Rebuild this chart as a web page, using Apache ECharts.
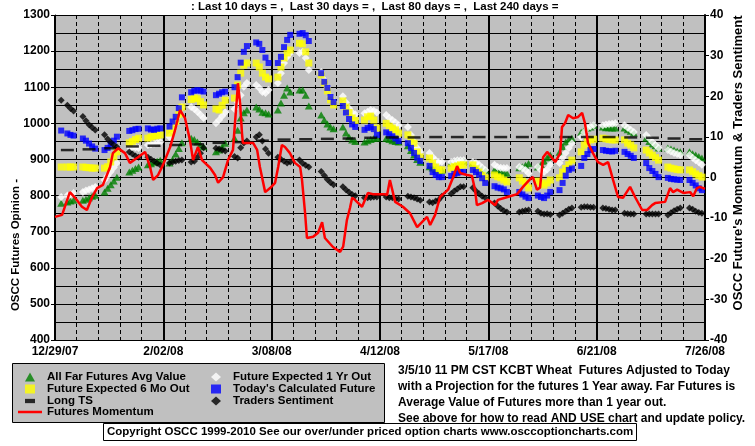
<!DOCTYPE html>
<html>
<head>
<meta charset="utf-8">
<script src="https://cdn.jsdelivr.net/npm/echarts@6/dist/echarts.min.js"></script>
<style>
html,body{margin:0;padding:0;background:#fff;}
#chart{width:755px;height:446px;}
</style>
</head>
<body>
<div id="chart"></div>
<script>
// x position = days since 12/29/07 (trading days only)
const tradingDay = [
  2,4,5,6, 9,10,11,12,13, 16,17,18,19,20, 24,25,26,27, 30,31,32,33,34,
  37,38,39,40,41, 44,45,46,47,48, 52,53,54,55, 58,59,60,61,62, 65,66,67,68,69,
  72,73,74,75,76, 79,80,81,82, 86,87,88,89,90, 93,94,95,96,97, 100,101,102,103,104,
  107,108,109,110,111, 114,115,116,117,118, 121,122,123,124,125, 128,129,130,131,132,
  135,136,137,138,139, 142,143,144,145,146, 150,151,152,153, 156,157,158,159,160,
  163,164,165,166,167, 170,171,172,173,174, 177,178,179,180,181, 184,185,186,187,
  191,192,193,194,195, 198,199,200,201,202, 205,206,207,208,209
];
const xTickLabels = ['12/29/07','2/02/08','3/08/08','4/12/08','5/17/08','6/21/08','7/26/08'];

const farFuturesAvg = [
  779,782,785,787, 787,790,794,798,801, 810,820,830,840,851, 865,870,875,879, 885,888,892,895,898,
  890,900,915,930,946, 959,955,948,940,935, 921,926,935,945, 959,981,1015,1029,1037, 1045,1040,1031,1029,1026,
  1037,1056,1078,1098,1087, 1092,1092,1078,1048, 1023,1009,998,990,985, 990,973,962,954,950, 948,952,955,958,959,
  958,955,952,950,948, 938,925,912,900,892, 880,876,873,870,870, 890,893,895,896,896,
  890,885,880,875,871, 871,868,865,862,862, 877,880,884,889, 879,885,895,905,912,
  920,935,948,955,959, 975,981,987,990,995, 990,988,988,987,987, 987,982,978,973,
  959,950,943,938,932, 932,929,926,923,921, 921,916,912,908,904
];
const expected1Yr = [
  796,800,803,807, 810,814,817,820,824, 843,855,866,878,890, 935,934,933,932, 940,942,944,946,948,
  962,980,1000,1022,1045, 1045,1040,1032,1024,1015, 1000,1009,1020,1031, 1040,1059,1078,1101,1112, 1106,1098,1087,1084,1092,
  1112,1139,1167,1184,1195, 1195,1198,1181,1148, 1142,1120,1098,1073,1060, 1075,1058,1042,1030,1025, 1028,1032,1037,1035,1030,
  1023,1015,1009,1002,995, 990,968,948,932,921, 918,907,898,893,893, 893,896,898,898,898,
  893,890,885,878,871, 885,879,877,876,876, 879,875,871,862, 879,871,865,872,885,
  890,905,918,932,945, 962,975,987,992,995, 995,997,998,999,1000, 995,988,982,976,
  968,958,948,940,932, 926,922,918,915,912, 912,905,898,892,885
];
const expected6Mo = [
  879,879,879,879, 879,878,877,876,876, 876,880,893,907,921, 946,950,955,959, 959,962,965,966,968,
  973,985,1005,1025,1045, 1066,1070,1068,1060,1051, 1040,1037,1050,1064, 1070,1106,1139,1161,1167, 1167,1156,1139,1128,1123,
  1128,1156,1181,1195,1203, 1222,1220,1198,1167, 1134,1112,1090,1065,1051, 1062,1045,1030,1015,1008, 1009,1018,1020,1009,987,
  1000,992,987,982,973, 968,956,945,921,907, 904,890,879,871,871, 876,880,882,885,885,
  885,874,865,856,849, 857,852,849,843,838, 849,840,835,821, 840,835,829,835,843,
  849,865,875,885,898, 921,940,950,954,956, 959,957,955,954,954, 954,945,940,932,
  926,918,912,905,898, 879,876,874,872,871, 871,866,860,855,851
];
const calculatedFuture = [
  980,972,968,966, 958,952,944,936,930, 926,932,942,952,963, 979,981,984,985, 986,983,982,985,986,
  991,1005,1018,1042,1072, 1086,1090,1092,1090,1088, 1078,1082,1086,1088, 1100,1128,1168,1198,1214, 1224,1220,1203,1182,1167,
  1167,1184,1211,1231,1245, 1248,1250,1244,1228, 1139,1115,1098,1073,1059, 1048,1030,1012,997,990, 982,987,990,984,968,
  975,970,964,958,951, 945,932,918,905,896, 882,865,857,851,851, 854,860,862,865,865,
  871,865,858,848,835, 826,822,820,817,810, 810,803,797,793, 800,796,793,800,810,
  815,835,855,871,875, 882,904,915,926,929, 926,924,923,922,924, 921,915,910,904,
  890,876,868,860,851, 849,846,845,844,843, 843,835,828,820,815
];
const tradersSentiment = [
  19,17.8,17,16.4, 15,14,13,12.3,11.7, 10.5,9.5,8.7,8,7.5, 6.3,5.8,5.3,5, 5,4.5,4,3.5,3.1,
  3.6,3.8,4,4.2,4.3, 3.8,4,5,6,7.3, 7.2,7,6.8,6.5, 5.2,4.8,7.3,8.5,9, 10,10.5,9,7,6,
  5,4.5,4,3.6,3.8, 4.3,3.5,3,2.6, 1.5,0.5,-0.5,-1.2,-1.8, -2.3,-3,-3.6,-4.2,-4.5, -5,-5,-4.9,-4.8,-4.8,
  -4.8,-5,-5,-5.2,-5.3, -4.6,-4.8,-5,-5.3,-5.6, -6,-6.2,-5.8,-5.5,-4.6, -4,-3.3,-2.8,-2.3,-2.3,
  -2.5,-3.3,-4,-4.6,-5, -6.3,-7,-7.6,-8.2,-8.5, -8.5,-8.3,-8.1,-8, -8.3,-8.8,-9,-8.9,-9.1,
  -9.2,-8.8,-8.3,-7.8,-7.5, -7.3,-7.2,-7.2,-7.3,-7.3, -7.5,-7.6,-7.8,-8,-8, -8.8,-8.9,-9,-9,
  -9,-9,-9,-9,-9, -9.2,-8.7,-8.2,-7.8,-7.5, -7.5,-7.8,-8.3,-8.6,-8.8
];
// Long TS: one value per week (mid-week day)
const longTsDay = [4,11,18,25,32,39,46,53,60,67,74,81,88,95,102,109,116,123,130,137,144,151,158,165,172,179,186,193,200,207];
const longTs = [926,928,931,936,938,940,942,946,948,952,955,956,957,958,960,961,961,962,962,962,962,962,962,962,962,962,961,960,958,956];
// Futures Momentum line
const momentumDay = [
  0,2.3,4.8,6.5,8.7,10.3,12,13.6,15.5,17.8,18.7,20.4,22.6,24.2,26.8,29.1,30.7,31.7,33.3,34.9,
  37.2,38.8,40.4,42,43.6,44.6,46.2,47.5,50.1,51.7,52.7,54.3,55.9,57.5,58.2,58.8,59.1,59.8,60.4,60.7,
  64,65.3,66.2,67.9,69.5,71.1,72.1,73.3,74.3,75.9,77.5,79.2,79.8,80.8,81.4,83.4,85,86.3,87.2,89.8,
  92.1,93.1,94.3,95.3,96,96.9,99.2,101.1,102.7,106.6,107.3,108.2,109.9,112.4,114.7,117,120.2,121.2,122.8,124.4,
  127,128.6,129.9,130.9,133.1,134.7,135.7,136.3,138,139.9,142.2,143.1,145.4,147,149.3,151.2,153.5,154.4,155.7,156.7,
  157.7,159,160.6,161.6,163.2,163.8,164.8,165.8,167.4,169,170.3,171.2,172.2,173.8,175.4,177.1,178.7,180.3,181.9,183.5,
  185.8,187.4,189.7,191.3,192.9,193.9,197.1,198.7,199.7,201,203,205.2,206.2,207.4,208.4,210
];
const momentum = [
  -9.7,-9.2,-3.6,-5,-7.2,-8,-4.8,-2.6,-1.8,2.6,6,7.2,6,3.6,5,6.3,2.6,-0.6,0.6,3.1,
  7.5,11.7,16.6,14.6,9.2,4.3,7.5,4.3,2.4,0.6,-1.3,0.1,4.3,6.8,14,19.8,23.2,18.3,11,8.5,
  8.5,6.8,2.6,-3.6,-2.6,-1.3,2.6,8,7.5,6,3.6,2.6,-0.6,-8.8,-14.9,-14.6,-13.6,-11,-14.9,-17.1,
  -18.3,-17,-10.5,-7.5,-5,-5.5,-7.2,-3.8,-4.1,-4.1,-4.3,-0.6,-6,-7.2,-8.8,-12.2,-9.7,-11.7,-9.2,-4.8,
  -3,0,2.8,1.1,0.6,0.4,-3,-6.8,-6.3,-5.5,-6.8,-5.5,-5,-4.6,-4.1,-2.3,-0.4,0.1,-3,-2.5,
  5,6.3,4.8,3.8,6,12.4,13.4,15.4,14.6,14.9,15.9,13.4,8.5,6,3.8,3.1,3.8,-0.6,-4.8,-5,
  -2.3,-4.8,-8,-8,-6.8,-6.3,-6,-2.6,-3.6,-3,-3.8,-3.6,-4.6,-2.6,-2.3,-2.8
];

const F = 'Liberation Sans, Arial, sans-serif';
const pair = (xs, ys) => xs.map((x, i) => [x, ys[i]]);

const chart = echarts.init(document.getElementById('chart'), null, {renderer: 'canvas'});
const bold = {fontFamily: F, fontWeight: 'bold', fontSize: 12, color: '#000'};
const boldS = {fontFamily: F, fontWeight: 'bold', fontSize: 11.5, color: '#000'};

chart.setOption({
  animation: false,
  backgroundColor: '#ffffff',
  title: [
    {text: ': Last 10 days = ,  Last 30 days = ,  Last 80 days = ,  Last 240 days =', left: 191, top: 1, padding: 0,
     textStyle: Object.assign({}, boldS)},
    {text: '3/5/10 11 PM CST KCBT Wheat  Futures Adjusted to Today\nwith a Projection for the futures 1 Year away. Far Futures is\nAverage Value of Futures more than 1 year out.\nSee above for how to read AND USE chart and update policy.',
     left: 398, top: 363, padding: 0, textStyle: Object.assign({lineHeight: 16}, bold)},
    {text: 'Copyright OSCC 1999-2010 See our over/under priced option charts www.osccoptioncharts.com',
     left: 103, top: 423, padding: [2, 4, 2, 4], borderColor: '#000', borderWidth: 1, backgroundColor: '#fff',
     textStyle: Object.assign({lineHeight: 14}, boldS)}
  ],
  graphic: [
    {type: 'rect', left: 12, top: 363, z: 0, shape: {width: 372, height: 59},
     style: {fill: '#c0c0c0', stroke: '#000', lineWidth: 1}},
    {type: 'text', x: 16, y: 245, rotation: Math.PI / 2, z: 10,
     style: {text: 'OSCC Futures Opinion -', font: 'bold 11.5px ' + F, fill: '#000', align: 'center', verticalAlign: 'middle'}},
    {type: 'text', x: 738, y: 163, rotation: Math.PI / 2, z: 10,
     style: {text: "OSCC Future's Momentum & Traders Sentiment", font: 'bold 13px ' + F, fill: '#000', align: 'center', verticalAlign: 'middle'}}
  ],
  legend: [
    {left: 25, top: 371, orient: 'vertical', padding: 0, itemWidth: 10, itemHeight: 9, itemGap: 0, z: 5,
     data: [
       {name: 'All Far Futures Avg Value', icon: 'triangle'},
       {name: 'Future Expected 6 Mo Out', icon: 'rect'},
       {name: 'Long TS', icon: 'path://M0,0H7V3H0Z'}
     ],
     textStyle: Object.assign({lineHeight: 12, padding: [0, 0, 0, 7]}, boldS)},
    {left: 18, top: 406, orient: 'vertical', padding: 0, itemWidth: 24, itemHeight: 9, itemGap: 0, z: 5,
     data: [{name: 'Futures Momentum', icon: 'path://M0,0H24V2.5H0Z'}],
     textStyle: Object.assign({lineHeight: 12}, boldS)},
    {left: 211, top: 371, orient: 'vertical', padding: 0, itemWidth: 10, itemHeight: 9, itemGap: 0, z: 5,
     data: [
       {name: 'Future Expected 1 Yr Out', icon: 'diamond'},
       {name: "Today's Calculated Future", icon: 'rect'},
       {name: 'Traders Sentiment', icon: 'diamond'}
     ],
     textStyle: Object.assign({lineHeight: 12, padding: [0, 0, 0, 7]}, boldS)}
  ],
  grid: {left: 55, right: 50, top: 15, bottom: 106, show: true, backgroundColor: '#c0c0c0', borderWidth: 0},
  xAxis: {
    type: 'value', min: 0, max: 210, interval: 35,
    axisLine: {show: true, lineStyle: {color: '#000', width: 1}},
    axisTick: {show: false},
    axisLabel: Object.assign({margin: 6, formatter: v => xTickLabels[Math.round(v / 35)] || ''}, bold),
    splitLine: {show: true, lineStyle: {color: '#000', width: 2}},
    minorTick: {show: false, splitNumber: 5},
    minorSplitLine: {show: true, lineStyle: {color: '#000', width: 1, type: [4, 3]}}
  },
  yAxis: [
    {type: 'value', min: 400, max: 1300, interval: 100, position: 'left',
     axisLine: {show: true, lineStyle: {color: '#000', width: 1}},
     axisTick: {show: true, length: 4, lineStyle: {color: '#000'}},
     axisLabel: Object.assign({margin: 5, formatter: v => String(v)}, bold),
     splitLine: {show: true, lineStyle: {color: '#000', width: 1}},
     minorTick: {show: false, splitNumber: 2},
     minorSplitLine: {show: true, lineStyle: {color: '#000', width: 1}}},
    {type: 'value', min: -40, max: 40, interval: 10, position: 'right',
     axisLine: {show: true, lineStyle: {color: '#000', width: 2}},
     axisTick: {show: true, length: 4, lineStyle: {color: '#000'}},
     axisLabel: Object.assign({margin: 5, formatter: v => String(v)}, bold),
     splitLine: {show: false}}
  ],
  series: [
    {name: 'All Far Futures Avg Value', type: 'scatter', yAxisIndex: 0, symbol: 'triangle', symbolSize: [8, 7],
     itemStyle: {color: '#008000'}, data: pair(tradingDay, farFuturesAvg), z: 2},
    {name: 'Future Expected 1 Yr Out', type: 'scatter', yAxisIndex: 0, symbol: 'diamond', symbolSize: 8,
     itemStyle: {color: '#ffffff'}, data: pair(tradingDay, expected1Yr), z: 2},
    {name: 'Future Expected 6 Mo Out', type: 'scatter', yAxisIndex: 0, symbol: 'rect', symbolSize: 7,
     itemStyle: {color: '#ffff00'}, data: pair(tradingDay, expected6Mo), z: 2},
    {name: "Today's Calculated Future", type: 'scatter', yAxisIndex: 0, symbol: 'rect', symbolSize: 6,
     itemStyle: {color: '#0000ff'}, data: pair(tradingDay, calculatedFuture), z: 2},
    {name: 'Long TS', type: 'scatter', yAxisIndex: 0, symbol: 'rect', symbolSize: [13, 2.5],
     itemStyle: {color: '#000000'}, data: pair(longTsDay, longTs), z: 2},
    {name: 'Traders Sentiment', type: 'scatter', yAxisIndex: 1, symbol: 'diamond', symbolSize: 7,
     itemStyle: {color: '#000000'}, data: pair(tradingDay, tradersSentiment), z: 3},
    {name: 'Futures Momentum', type: 'line', yAxisIndex: 1, showSymbol: false, symbol: 'none',
     lineStyle: {color: '#ff0000', width: 2.5}, itemStyle: {color: '#ff0000'},
     data: pair(momentumDay, momentum), z: 4}
  ]
});
</script>
</body>
</html>
